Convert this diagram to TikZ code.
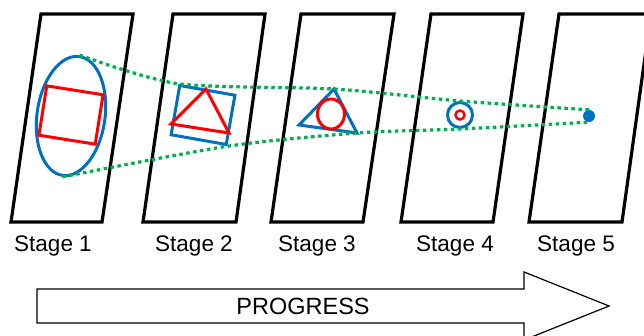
\documentclass[tikz,border=0pt]{standalone}
\usepackage{fontspec}
\setmainfont{Liberation Sans}
\usepackage{xcolor}
\usepackage{tikz}
\usetikzlibrary{shapes.geometric}

\definecolor{shapeblue}{RGB}{0,112,192}
\definecolor{trailgreen}{RGB}{0,176,80}

\begin{document}
\begin{tikzpicture}[
  x=1pt, y=-1pt,
  frame/.style={
    draw=black,
    line width=3.2pt,
    line join=miter
  },
  outer/.style={
    draw=shapeblue,
    line width=3pt,
    inner sep=0pt
  },
  inner/.style={
    draw=red,
    line width=3pt,
    inner sep=0pt
  },
  trail/.style={
    draw=trailgreen,
    line width=3.2pt,
    dash pattern=on 3.5pt off 3.5pt
  },
  stagelabel/.style={
    font=\fontsize{22.5}{22.5}\selectfont,
    inner sep=0pt
  },
  bigarrow/.style={
    draw=black,
    line width=1.2pt,
    fill=white
  }
]
\useasboundingbox (0,0) rectangle (644,336);
\clip (0,0) rectangle (644,336);

% Stage frames
\draw[frame] (41,14) -- (133,14) -- (102,222) -- (11,222) -- cycle;
\draw[frame] (173,14) -- (265,14) -- (236,222) -- (143,222) -- cycle;
\draw[frame] (301,14) -- (394,14) -- (363,222) -- (271,222) -- cycle;
\draw[frame] (431,14) -- (523,14) -- (493,222) -- (401,222) -- cycle;
\draw[frame] (559,14) -- (651,14) -- (622,222) -- (529,222) -- cycle;

% Stage 1
\node[outer, ellipse, minimum width=68, minimum height=120, rotate=-8] (ell1) at (71,116) {};
\node[inner, rectangle, minimum width=57, minimum height=50, rotate=-9] (sq1) at (71,115) {};

% Stage 2
\node[outer, rectangle, minimum width=56, minimum height=50, rotate=-10] (sq2) at (203,115) {};
\draw[inner, line join=miter] (206,89) -- (171,124) -- (229,133) -- cycle;
\coordinate (tri2) at (206,89);

% Stage 3
\draw[outer, line join=miter] (334,89) -- (299,125) -- (357,133) -- cycle;
\coordinate (tri3top) at (334,89);
\coordinate (tri3bot) at (357,133);
\node[inner, ellipse, minimum width=27, minimum height=30] (ell3) at (331,114) {};

% Stage 4
\node[outer, circle, minimum size=25] (ring4) at (460,115) {};
\node[inner, circle, minimum size=9, line width=2.5pt] (ring4in) at (460,115) {};

% Stage 5
\node[circle, fill=shapeblue, minimum size=12, inner sep=0pt] (dot5) at (589,116) {};

% Trails
\draw[trail] plot[smooth, tension=0.45] coordinates {(ell1.north) (sq2.north west) (tri3top) (ring4.north) (dot5.north)};
\draw[trail] plot[smooth, tension=0.45] coordinates {(ell1.south) (sq2.south east) (tri3bot) (ring4.south) (dot5.south)};

% Labels
\node[stagelabel] (st1) at (53,246) {Stage 1};
\node[stagelabel] (st2) at (194,246) {Stage 2};
\node[stagelabel] (st3) at (317,246) {Stage 3};
\node[stagelabel] (st4) at (455,246) {Stage 4};
\node[stagelabel] (st5) at (576,246) {Stage 5};

% Progress arrow
\draw[bigarrow] (37,289) -- (524,289) -- (524,272) -- (609,306) -- (524,340) -- (524,323) -- (37,323) -- cycle;
\node[font=\fontsize{23.5}{23.5}\selectfont, inner sep=0pt] (prog) at (303,306) {PROGRESS};
\end{tikzpicture}
\end{document}
